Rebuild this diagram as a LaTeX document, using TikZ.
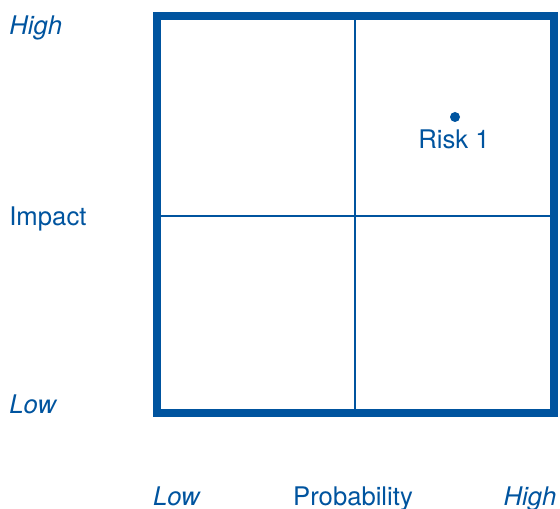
\documentclass[tikz,border=0pt]{standalone}
\usepackage{fontspec}
\setmainfont{TeX Gyre Heros}
\definecolor{riskblue}{RGB}{0,84,159}
\begin{document}
\begin{tikzpicture}[x=0.02cm, y=-0.02cm, every node/.style={text=riskblue, font=\fontsize{14.6}{16}\selectfont, inner sep=0pt}]
\useasboundingbox (0,0) rectangle (560,509);
\draw[riskblue, line width=0.16cm] (157,16) rectangle (554,413);
\draw[riskblue, line width=0.04cm] (355,16)--(355,413);
\draw[riskblue, line width=0.04cm] (157,216)--(554,216);
\fill[riskblue] (455,117) circle (5);
\node (risk) at (454,149)[anchor=base]{Risk 1};
\foreach \y/\ytext/\yname in {35/\textit{High}/vhigh,226/Impact/impact,413/\textit{Low}/vlow}
{
	\node (\yname) at (9,\y)[anchor=base west]{\ytext};
}
\foreach \x/\xtext/\xname in {177/\textit{Low}/hlow,353/Probability/prob,530/\textit{High}/hhigh}
{
	\node (\xname) at (\x,505)[anchor=base]{\xtext};
}
\end{tikzpicture}
\end{document}
